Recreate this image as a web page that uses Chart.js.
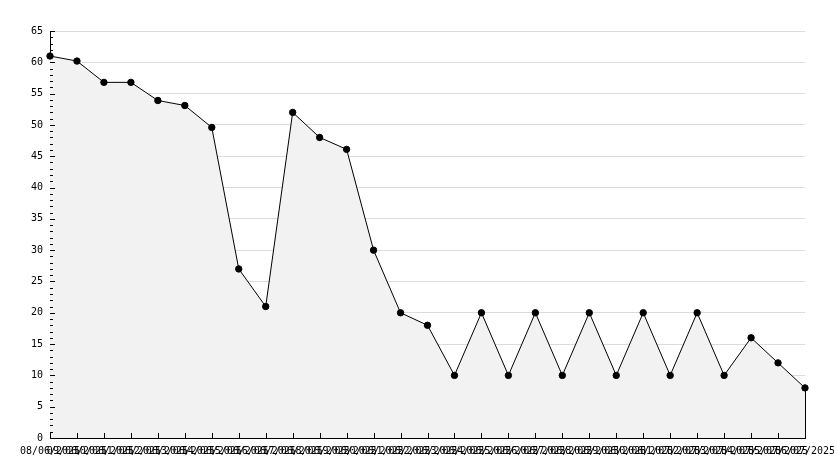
<!DOCTYPE html>
<html>
<head>
<meta charset="utf-8">
<script src="https://cdn.jsdelivr.net/npm/chart.js@4"></script>
<style>
  html, body { margin: 0; padding: 0; background: #fff; }
  #wrap { width: 834px; height: 468px; }
</style>
</head>
<body>
<div id="wrap"><canvas id="lineChart"></canvas></div>
<script>
// dados
const dateLabels = [
    '08/06/2025', '09/06/2025', '10/06/2025', '11/06/2025', '12/06/2025',
    '13/06/2025', '14/06/2025', '15/06/2025', '16/06/2025', '17/06/2025',
    '18/06/2025', '19/06/2025', '20/06/2025', '21/06/2025', '22/06/2025',
    '23/06/2025', '24/06/2025', '25/06/2025', '26/06/2025', '27/06/2025',
    '28/06/2025', '29/06/2025', '30/06/2025', '01/07/2025', '02/07/2025',
    '03/07/2025', '04/07/2025', '05/07/2025', '06/07/2025'
];
const seriesValues = [
    61, 60.2, 56.8, 56.8, 53.9, 53.1, 49.6, 27, 21, 52, 48, 46.1, 30, 20, 18,
    10, 20, 10, 20, 10, 20, 10, 20, 10, 20, 10, 16, 12, 8
];
const yTicks = [0, 5, 10, 15, 20, 25, 30, 35, 40, 45, 50, 55, 60, 65];

// desenha os traços dos eixos para dentro da área do gráfico
const axisTicksPlugin = {
    id: 'axisTicks',
    afterDatasetsDraw(chart) {
        const ctx = chart.ctx;
        const area = chart.chartArea;
        const x = chart.scales.x;
        const y = chart.scales.y;
        ctx.save();
        ctx.strokeStyle = '#000';
        ctx.lineWidth = 1;
        ctx.beginPath();
        // traços menores no eixo y
        for (let v = yTicks[0]; v <= yTicks[yTicks.length - 1]; v++) {
            const py = Math.round(y.getPixelForValue(v)) + 0.5;
            const len = (v % 5 === 0) ? 5 : 3;
            ctx.moveTo(area.left, py);
            ctx.lineTo(area.left + len, py);
        }
        // traços no eixo x
        dateLabels.forEach((_, i) => {
            const px = Math.round(x.getPixelForTick(i)) + 0.5;
            ctx.moveTo(px, area.bottom);
            ctx.lineTo(px, area.bottom - 5);
        });
        // borda direita da área preenchida
        const meta = chart.getDatasetMeta(0);
        const last = meta.data[meta.data.length - 1];
        const lx = Math.round(last.x) + 0.5;
        ctx.moveTo(lx, last.y);
        ctx.lineTo(lx, y.getPixelForValue(0));
        ctx.stroke();
        ctx.restore();
    }
};

const fontSpec = { family: 'DejaVu Sans Mono', size: 10 };

const config = {
    type: 'line',
    data: {
        labels: dateLabels,
        datasets: [{
            data: seriesValues,
            borderColor: '#000',
            borderWidth: 1,
            backgroundColor: '#f2f2f2',
            fill: 'origin',
            tension: 0,
            pointRadius: 3.2,
            pointStyle: 'circle',
            pointBackgroundColor: '#000',
            pointBorderColor: '#000',
            pointBorderWidth: 1
        }]
    },
    options: {
        responsive: true,
        maintainAspectRatio: false,
        animation: false,
        layout: { padding: { top: 31, right: 29, left: 0, bottom: 0 } },
        plugins: {
            legend: { display: false },
            tooltip: { enabled: false }
        },
        scales: {
            x: {
                offset: false,
                grid: { display: false, drawTicks: false },
                border: { display: true, color: '#000', width: 1 },
                ticks: {
                    autoSkip: false,
                    maxRotation: 0,
                    minRotation: 0,
                    padding: 7,
                    color: '#000',
                    font: fontSpec
                },
                afterFit(scale) {
                    scale.height = 30;
                    scale.paddingRight = 0;
                    scale.paddingLeft = 0;
                }
            },
            y: {
                min: 0,
                max: 65,
                afterBuildTicks(scale) {
                    scale.ticks = yTicks.map(v => ({ value: v }));
                },
                grid: { color: '#dcdcdc', lineWidth: 1, drawTicks: false },
                border: { display: true, color: '#000', width: 1 },
                ticks: {
                    padding: 7,
                    color: '#000',
                    font: fontSpec
                },
                afterFit(scale) { scale.width = 50; }
            }
        }
    },
    plugins: [axisTicksPlugin]
};

new Chart(document.getElementById('lineChart').getContext('2d'), config);
</script>
</body>
</html>
